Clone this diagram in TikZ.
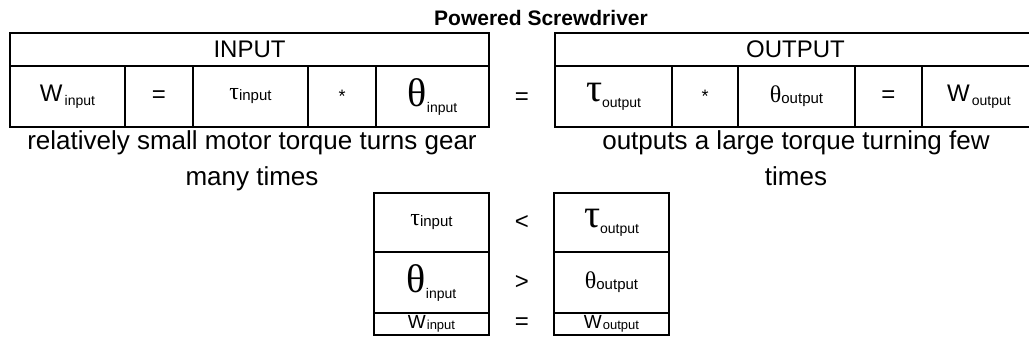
\documentclass[tikz,border=0pt]{standalone}
\usepackage{fontspec}
\setmainfont{Liberation Sans}
\newfontfamily\grk{Liberation Serif}
\newcommand\fs[1]{\fontsize{#1}{#1}\selectfont}
\newcommand\Wq[1]{{\fs{24}W}\kern2pt\raisebox{-4pt}{\fs{14}#1}}
\newcommand\Wb[1]{\raisebox{-1pt}{{\fs{19}W}\kern1pt\raisebox{-1.5pt}{\fs{13}#1}}}
\newcommand\smg[2]{{\grk\fs{24}#1}\raisebox{-1pt}{\fs{15}#2}}
\newcommand\lgg[2]{{\grk\fs{40}#1}\raisebox{-6pt}{\fs{14}#2}}
\tikzset{
  cell/.style={draw, line width=2.4pt, inner sep=0pt, anchor=center},
  lbl/.style={inner sep=0pt, anchor=center},
  captext/.style={inner sep=0pt, anchor=base, font=\fs{26}},
}
\begin{document}
\begin{tikzpicture}[x=1pt,y=-1pt]
\useasboundingbox (0,0) rectangle (1029,347);
\clip (0,0) rectangle (1029,347);
\node[lbl, font=\bfseries\fs{21}] (title) at (541,17.5) {Powered Screwdriver};
% INPUT table
\node[cell, minimum width=479pt, minimum height=33pt, font=\fs{24}] (inh) at (249.5,49.5) {INPUT};
\node[cell, minimum width=115pt, minimum height=61pt] (i1) at (67.5,96.5) {\Wq{input}};
\node[cell, minimum width=68pt, minimum height=61pt, font=\fs{24}] (i2) at (159,96.5) {=};
\node[cell, minimum width=115pt, minimum height=61pt] (i3) at (250.5,96.5) {\smg{τ}{input}};
\node[cell, minimum width=68pt, minimum height=61pt, font=\fs{18}] (i4) at (342,96.5) {\raisebox{-2pt}{*}};
\node[cell, minimum width=113pt, minimum height=61pt] (i5) at (432.5,96.5) {\lgg{θ}{input}};
\node[lbl, font=\fs{24}] (eqmid) at (522,99) {=};
% OUTPUT table
\node[cell, minimum width=481pt, minimum height=33pt, font=\fs{24}] (outh) at (795.5,49.5) {OUTPUT};
\node[cell, minimum width=117pt, minimum height=61pt] (o1) at (613.5,96.5) {\lgg{τ}{output}};
\node[cell, minimum width=66pt, minimum height=61pt, font=\fs{18}] (o2) at (705,96.5) {\raisebox{-2pt}{*}};
\node[cell, minimum width=117pt, minimum height=61pt] (o3) at (796.5,96.5) {\smg{θ}{output}};
\node[cell, minimum width=67pt, minimum height=61pt, font=\fs{24}] (o4) at (888.5,96.5) {=};
\node[cell, minimum width=114pt, minimum height=61pt] (o5) at (979,96.5) {\Wq{output}};
% captions
\node[captext] (capl1) at (252,150) {relatively small motor torque turns gear};
\node[captext] (capl2) at (252,186) {many times};
\node[captext] (capr1) at (796,150) {outputs a large torque turning few};
\node[captext] (capr2) at (796,186) {times};
% comparison tables
\node[cell, minimum width=115pt, minimum height=59pt] (a1) at (431.5,222.5) {\smg{τ}{input}};
\node[cell, minimum width=115pt, minimum height=61pt] (a2) at (431.5,282.5) {\lgg{θ}{input}};
\node[cell, minimum width=115pt, minimum height=22pt] (a3) at (431.5,324) {\Wb{input}};
\node[lbl, font=\fs{24}] (s1) at (522,222.5) {<};
\node[lbl, font=\fs{24}] (s2) at (522,282.5) {>};
\node[lbl, font=\fs{24}] (s3) at (522,324) {=};
\node[cell, minimum width=115pt, minimum height=59pt] (b1) at (611.5,222.5) {\lgg{τ}{output}};
\node[cell, minimum width=115pt, minimum height=61pt] (b2) at (611.5,282.5) {\smg{θ}{output}};
\node[cell, minimum width=115pt, minimum height=22pt] (b3) at (611.5,324) {\Wb{output}};
\end{tikzpicture}
\end{document}
